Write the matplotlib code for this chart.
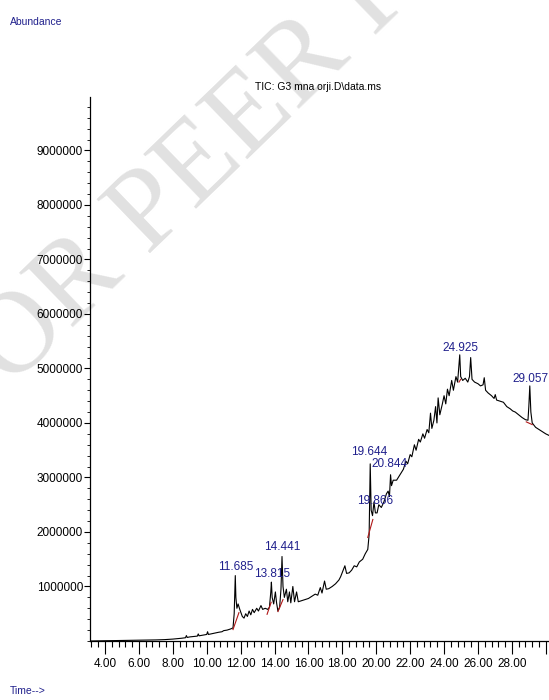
import numpy as np
from matplotlib import pyplot as plt
from matplotlib.ticker import MultipleLocator, FixedLocator

# TIC chromatogram (time in min, abundance in millions)
time = [3.12, 4.0, 5.0, 6.0, 7.0, 7.5, 8.0, 8.5, 8.75, 8.8, 8.85, 9.0, 9.3, 9.45, 9.5, 9.55,
        9.8, 10.0, 10.05, 10.1, 10.4, 10.7, 10.9, 11.0, 11.2, 11.4, 11.55, 11.62, 11.685, 11.72,
        11.78, 11.85, 11.95, 12.1, 12.2, 12.3, 12.4, 12.5, 12.6, 12.7, 12.8, 12.95, 13.05, 13.2,
        13.3, 13.45, 13.6, 13.7, 13.78, 13.815, 13.86, 13.95, 14.05, 14.12, 14.2, 14.3, 14.38,
        14.441, 14.5, 14.58, 14.7, 14.78, 14.88, 14.96, 15.08, 15.18, 15.3, 15.4, 15.6, 15.8,
        16.0, 16.2, 16.4, 16.55, 16.7, 16.8, 16.95, 17.05, 17.2, 17.4, 17.6, 17.8, 17.9, 18.05,
        18.15, 18.25, 18.4, 18.55, 18.7, 18.85, 19.0, 19.2, 19.35, 19.5, 19.58, 19.644, 19.7,
        19.78, 19.866, 19.95, 20.05, 20.15, 20.3, 20.45, 20.6, 20.7, 20.78, 20.844, 20.9, 21.0,
        21.2, 21.4, 21.6, 21.75, 21.85, 22.0, 22.1, 22.25, 22.35, 22.5, 22.6, 22.75, 22.85, 23.0,
        23.1, 23.2, 23.28, 23.4, 23.5, 23.58, 23.65, 23.75, 23.9, 24.0, 24.1, 24.2, 24.3, 24.45,
        24.55, 24.7, 24.8, 24.925, 24.98, 25.1, 25.25, 25.4, 25.5, 25.57, 25.65, 25.8, 26.0,
        26.15, 26.3, 26.37, 26.45, 26.6, 26.8, 26.95, 27.02, 27.1, 27.3, 27.5, 27.7, 27.9, 28.05,
        28.2, 28.4, 28.6, 28.8, 28.95, 29.0, 29.057, 29.12, 29.2, 29.4, 29.6, 29.8, 30.0, 30.2]
abund = [0.0, 0.005, 0.01, 0.015, 0.02, 0.025, 0.035, 0.05, 0.06, 0.1, 0.065, 0.075, 0.085, 0.09,
         0.13, 0.095, 0.11, 0.12, 0.17, 0.12, 0.14, 0.16, 0.17, 0.19, 0.2, 0.22, 0.24, 0.5, 1.2,
         0.8, 0.6, 0.68, 0.58, 0.45, 0.42, 0.5, 0.45, 0.55, 0.48, 0.58, 0.52, 0.6, 0.55, 0.65,
         0.58, 0.6, 0.58, 0.62, 0.9, 1.08, 0.8, 0.68, 0.9, 0.7, 0.55, 0.62, 0.95, 1.55, 1.0, 0.8,
         0.95, 0.72, 0.9, 0.7, 1.0, 0.72, 0.9, 0.72, 0.74, 0.76, 0.78, 0.82, 0.86, 0.84, 0.98,
         0.88, 1.1, 0.95, 0.96, 1.0, 1.05, 1.12, 1.18, 1.3, 1.38, 1.24, 1.25, 1.3, 1.38, 1.36,
         1.45, 1.5, 1.6, 1.68, 1.95, 3.25, 2.4, 2.3, 2.55, 2.35, 2.35, 2.5, 2.45, 2.55, 2.7, 2.75,
         2.65, 3.05, 2.85, 2.95, 2.95, 3.05, 3.15, 3.3, 3.25, 3.42, 3.38, 3.6, 3.5, 3.7, 3.65,
         3.8, 3.72, 3.88, 3.82, 4.18, 3.9, 4.05, 4.3, 4.0, 4.46, 4.15, 4.35, 4.5, 4.35, 4.62, 4.5,
         4.78, 4.6, 4.85, 4.75, 5.25, 4.85, 4.78, 4.82, 4.75, 4.85, 5.2, 4.8, 4.75, 4.72, 4.68,
         4.7, 4.83, 4.6, 4.55, 4.5, 4.45, 4.52, 4.42, 4.4, 4.38, 4.3, 4.26, 4.22, 4.2, 4.15, 4.1,
         4.06, 4.05, 4.3, 4.68, 4.2, 4.0, 3.92, 3.88, 3.84, 3.8, 3.77]

# integration baselines (red): start time, start abundance, end time, end abundance
base_t0 = [11.55, 13.56, 14.2, 19.5, 24.88, 28.85]
base_a0 = [0.21, 0.49, 0.54, 1.9, 4.75, 4.02]
base_t1 = [11.9, 13.8, 14.5, 19.8, 24.98, 29.2]
base_a1 = [0.52, 0.71, 0.76, 2.23, 4.8, 3.97]

# peak labels and where they sit
peak_names = ['11.685', '13.815', '14.441', '19.644', '20.844', '19.866', '24.925', '29.057']
peak_x = [11.74, 13.88, 14.44, 19.58, 20.81, 19.93, 24.94, 29.07]
peak_y = [1.25, 1.12, 1.61, 3.36, 3.14, 2.46, 5.27, 4.70]

x_labels = ['4.00', '6.00', '8.00', '10.00', '12.00', '14.00', '16.00', '18.00', '20.00',
            '22.00', '24.00', '26.00', '28.00', '']
y_ticks = [1000000, 2000000, 3000000, 4000000, 5000000, 6000000, 7000000, 8000000, 9000000]

sans = ['Liberation Sans', 'DejaVu Sans']
navy = '#20208c'


def main():
    fig = plt.figure(figsize=(5.49, 7.0), dpi=100)

    # watermark, drawn under the axes
    fig.text(312 / 549, 1 - 58 / 700, 'FOR PEER REVIEW', fontsize=84,
             family=['Liberation Serif', 'DejaVu Serif'], color='#e1e1e1',
             rotation=44, ha='center', va='center', rotation_mode='anchor', zorder=-1)

    ax = fig.add_axes([90 / 549, 59 / 700, 459 / 549, 544 / 700])
    ax.patch.set_alpha(0)

    t = np.array(time)
    a = np.array(abund) * 1e6
    ax.plot(t, a, color='black', lw=0.8, zorder=3)
    for i in range(len(base_t0)):
        ax.plot([base_t0[i], base_t1[i]], [base_a0[i] * 1e6, base_a1[i] * 1e6],
                color='#b01818', lw=0.8, zorder=4)

    for i in range(len(peak_names)):
        ax.text(peak_x[i], peak_y[i] * 1e6, peak_names[i], ha='center', va='bottom',
                fontsize=8.5, family=sans, color=navy, zorder=5)

    ax.set_xlim(3.115, 30.19)
    ax.set_ylim(0, 9.98e6)

    for s in ['top', 'right']:
        ax.spines[s].set_visible(False)
    for s in ['left', 'bottom']:
        ax.spines[s].set_linewidth(0.9)

    ax.xaxis.set_major_locator(FixedLocator(np.arange(4, 31, 2)))
    ax.set_xticklabels(x_labels)
    ax.xaxis.set_minor_locator(MultipleLocator(0.4))
    ax.set_yticks(y_ticks)
    ax.set_yticklabels([str(v) for v in y_ticks])
    ax.yaxis.set_minor_locator(MultipleLocator(200000))

    ax.tick_params(axis='x', which='major', length=9, width=0.8, pad=3, labelsize=8.5)
    ax.tick_params(axis='x', which='minor', length=4, width=0.8)
    ax.tick_params(axis='y', which='major', length=4, width=0.8, pad=1, labelsize=8.5)
    ax.tick_params(axis='y', which='minor', length=2, width=0.6)
    for lab in ax.get_xticklabels() + ax.get_yticklabels():
        lab.set_family(sans)

    fig.text(10 / 549, 1 - 22 / 700, 'Abundance', fontsize=7.5, family=sans,
             color=navy, ha='left', va='center')
    fig.text(318 / 549, 1 - 87 / 700, 'TIC: G3 mna orji.D\\data.ms', fontsize=7.5,
             family=sans, color='black', ha='center', va='center')
    fig.text(10 / 549, 1 - 691 / 700, 'Time-->', fontsize=7.5, family=sans,
             color=navy, ha='left', va='center')

    fig.savefig('out.png', dpi=100)


if __name__ == '__main__':
    main()
